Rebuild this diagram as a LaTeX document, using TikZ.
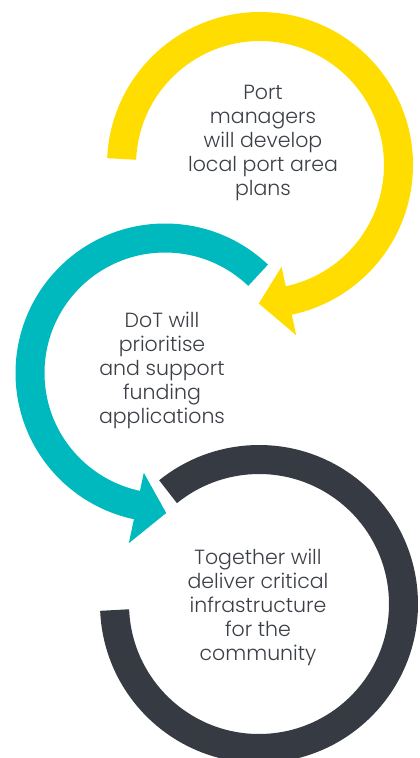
\documentclass[tikz,border=0pt]{standalone}
\usepackage{fontspec}
\setmainfont{Poppins}[UprightFont=* Light]
\usetikzlibrary{calc}
\definecolor{yel}{RGB}{255,221,0}
\definecolor{tealc}{RGB}{0,185,190}
\definecolor{darkc}{RGB}{54,58,66}
\definecolor{txt}{RGB}{59,63,70}
\begin{document}
\begin{tikzpicture}[x=1pt,y=-1pt,
  band/.style={line width=29pt},
  lbl/.style={text=txt, align=center, font=\fontsize{20.5}{24}\selectfont}]
\useasboundingbox (0,0) rectangle (420,758);
\fill[white] (0,0) rectangle (420,758);
\coordinate (cy) at (260,165);
\coordinate (ct) at (165,373);
\coordinate (cd) at (259,604);
% yellow arc with arrow
\draw[band, yel] ($(cy)+(182.5:138.5)$) arc[start angle=182.5, end angle=438.5, radius=138.5];
\fill[yel] ($(cy)+(438:104)$) -- ($(cy)+(438:174)$) -- ($(cy)+(450.5:138.5)$) -- cycle;
% teal arc with arrow
\draw[band, tealc] ($(ct)+(-46.4:135)$) arc[start angle=-46.4, end angle=-258.5, radius=135];
\fill[tealc] ($(ct)+(-258:102)$) -- ($(ct)+(-258:174)$) -- ($(ct)+(-270.5:140)$) -- cycle;
% dark arc
\draw[band, darkc] ($(cd)+(177.6:144.5)$) arc[start angle=177.6, end angle=-129, radius=144.5];
% texts
\node[lbl] (t1) at (263,143) {Port\\managers\\will develop\\local port area\\plans};
\node[lbl] (t2) at (162,370) {DoT will\\prioritise\\and support\\funding\\applications};
\node[lbl] (t3) at (258,607) {Together will\\deliver critical\\infrastructure\\for the\\community};
\end{tikzpicture}
\end{document}
